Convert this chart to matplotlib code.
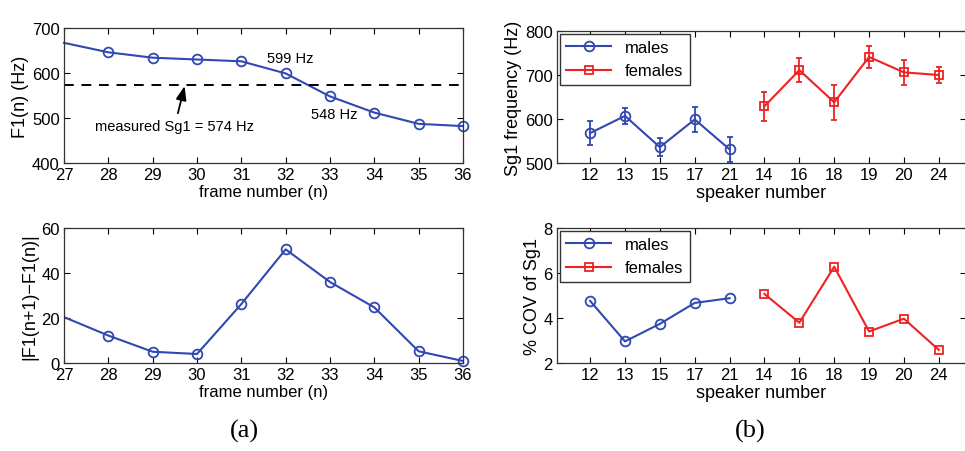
import numpy as np
import matplotlib
matplotlib.use("Agg")
import matplotlib.pyplot as plt

plt.rcParams["font.family"] = ["Liberation Sans", "DejaVu Sans"]
plt.rcParams["font.size"] = 12

# (a) formant track
frames = [27, 28, 29, 30, 31, 32, 33, 34, 35, 36]
f1 = [667, 646, 634, 630, 626, 599, 548, 512, 487, 482]
f1_diff = [20.4, 12.2, 5.0, 4.0, 26.2, 50.5, 36.0, 24.7, 5.2, 0.9]
sg1_measured = 574

# (b) per speaker
male_spk = ["12", "13", "15", "17", "21"]
female_spk = ["14", "16", "18", "19", "20", "24"]
male_sg1 = [568, 607, 536, 599, 531]
male_err = [27, 18, 20, 28, 28]
female_sg1 = [629, 711, 638, 741, 706, 700]
female_err = [33, 28, 40, 26, 29, 18]
male_cov = [4.76, 2.96, 3.74, 4.67, 4.88]
female_cov = [5.07, 3.79, 6.28, 3.40, 3.97, 2.58]

blue = "#3048b0"
red = "#ee2222"

W, H = 965, 452
fig = plt.figure(figsize=(W / 100, H / 100), dpi=100)

def box(x0, y0, x1, y1):
    return [x0 / W, 1 - y1 / H, (x1 - x0) / W, (y1 - y0) / H]

def style(ax):
    ax.tick_params(direction="in", top=True, right=True, length=4, width=0.8, pad=3)
    for s in ax.spines.values():
        s.set_linewidth(0.9)
        s.set_color("#333333")

# top left
ax1 = fig.add_axes(box(64, 29, 463, 164))
ax1.plot(frames, f1, color=blue, lw=1.5, clip_on=False)
ax1.plot(frames[1:], f1[1:], "o", color=blue, mfc="none", ms=7, mew=1.3, clip_on=False)
ax1.axhline(sg1_measured, color="k", ls=(0, (5, 4)), lw=1.4)
ax1.set_xlim(27, 36)
ax1.set_ylim(400, 700)
ax1.set_xticks(frames)
ax1.set_yticks([400, 500, 600, 700])
ax1.set_xlabel("frame number (n)", labelpad=1)
ax1.set_ylabel("F1(n) (Hz)", labelpad=2, fontsize=13)
ax1.text(32.1, 633, "599 Hz", ha="center", va="center", fontsize=10.5)
ax1.text(33.1, 509, "548 Hz", ha="center", va="center", fontsize=10.5)
ax1.annotate("measured Sg1 = " + str(sg1_measured) + " Hz", xy=(29.72, 571), xytext=(29.5, 483),
             ha="center", va="center", fontsize=10.5,
             arrowprops=dict(arrowstyle="-|>,head_width=0.3,head_length=0.8", color="k", lw=1.3,
                             shrinkA=2, shrinkB=0))
style(ax1)

# bottom left
ax2 = fig.add_axes(box(64, 229, 463, 364))
ax2.plot(frames, f1_diff, color=blue, lw=1.5)
ax2.plot(frames[1:], f1_diff[1:], "o", color=blue, mfc="none", ms=7, mew=1.3, clip_on=False)
ax2.set_xlim(27, 36)
ax2.set_ylim(0, 60)
ax2.set_xticks(frames)
ax2.set_yticks([0, 20, 40, 60])
ax2.set_xlabel("frame number (n)", labelpad=1)
ax2.set_ylabel("|F1(n+1)\u2212F1(n)|", labelpad=2, fontsize=13)
style(ax2)

# right panels
xm = np.arange(1, len(male_spk) + 1)
xf = np.arange(len(male_spk) + 1, len(male_spk) + len(female_spk) + 1)
labels = male_spk + female_spk

ax3 = fig.add_axes(box(557, 32, 966, 164))
ax3.errorbar(xm, male_sg1, yerr=male_err, color=blue, lw=1.5, marker="o", mfc="none",
             ms=7, mew=1.3, capsize=2.5, elinewidth=1.3, label="males")
ax3.errorbar(xf, female_sg1, yerr=female_err, color=red, lw=1.5, marker="s", mfc="none",
             ms=6, mew=1.3, capsize=2.5, elinewidth=1.3, label="females")
ax3.set_xlim(0.05, 11.78)
ax3.set_ylim(500, 800)
ax3.set_xticks(np.concatenate([xm, xf]))
ax3.set_xticklabels(labels)
ax3.set_yticks([500, 600, 700, 800])
ax3.set_xlabel("speaker number", labelpad=1, fontsize=13)
ax3.set_ylabel("Sg1 frequency (Hz)", labelpad=2, fontsize=13)
h, l = ax3.get_legend_handles_labels()
h = [hh[0] for hh in h]
ax3.legend(h, l, loc="upper left", fancybox=False, edgecolor="#333333", framealpha=1,
           handlelength=2.7, borderaxespad=0.15, labelspacing=0.5, fontsize=12)
style(ax3)

ax4 = fig.add_axes(box(557, 229, 966, 364))
ax4.plot(xm, male_cov, color=blue, lw=1.5, marker="o", mfc="none", ms=7, mew=1.3, label="males")
ax4.plot(xf, female_cov, color=red, lw=1.5, marker="s", mfc="none", ms=6, mew=1.3, label="females")
ax4.set_xlim(0.05, 11.78)
ax4.set_ylim(2, 8)
ax4.set_xticks(np.concatenate([xm, xf]))
ax4.set_xticklabels(labels)
ax4.set_yticks([2, 4, 6, 8])
ax4.set_xlabel("speaker number", labelpad=1, fontsize=13)
ax4.set_ylabel("% COV of Sg1", labelpad=2, fontsize=13)
ax4.legend(loc="upper left", fancybox=False, edgecolor="#333333", framealpha=1,
           handlelength=2.7, borderaxespad=0.15, labelspacing=0.5, fontsize=12)
style(ax4)

fig.text(244 / W, 1 - 431 / H, "(a)", family=["Liberation Serif", "DejaVu Serif"], fontsize=19,
         ha="center", va="center")
fig.text(750 / W, 1 - 431 / H, "(b)", family=["Liberation Serif", "DejaVu Serif"], fontsize=19,
         ha="center", va="center")

fig.savefig("out.png", dpi=100)
